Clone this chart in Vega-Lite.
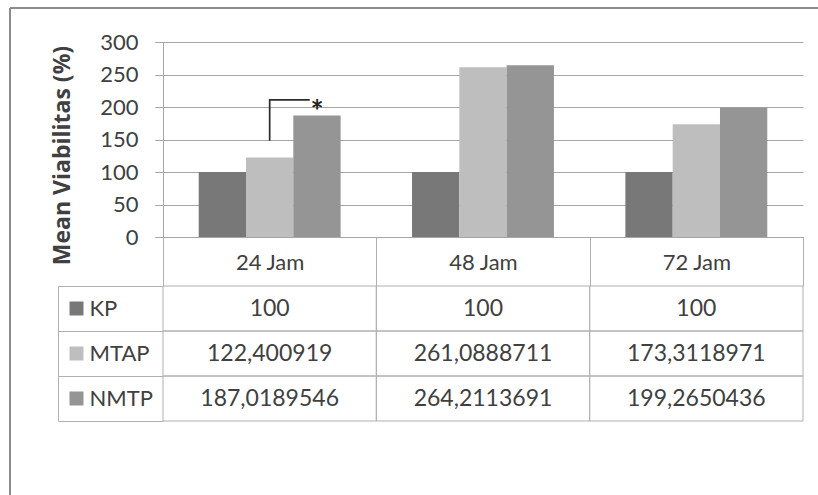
{
  "$schema": "https://vega.github.io/schema/vega-lite/v6.json",
  "width": 808,
  "height": 487,
  "autosize": {"type": "none"},
  "padding": {"left": 10, "top": 8, "right": 0, "bottom": 0},
  "background": "white",
  "config": {
    "view": {"stroke": "#8c8c8c", "strokeWidth": 2, "fill": "white", "strokeDash": [808, 1295, 487, 0]},
    "font": "Lato",
    "locale": {"number": {"decimal": ",", "thousands": ".", "grouping": [3], "currency": ["", ""]}},
    "axis": {
      "grid": false,
      "labelFont": "Lato",
      "titleFont": "Lato",
      "labelColor": "#404040",
      "domainColor": "#a6a6a6",
      "tickColor": "#a6a6a6"
    }
  },
  "datasets": {
    "viability": [
      {"jam": "24 Jam", "series": "KP", "value": 100},
      {"jam": "24 Jam", "series": "MTAP", "value": 122.400919},
      {"jam": "24 Jam", "series": "NMTP", "value": 187.0189546},
      {"jam": "48 Jam", "series": "KP", "value": 100},
      {"jam": "48 Jam", "series": "MTAP", "value": 261.0888711},
      {"jam": "48 Jam", "series": "NMTP", "value": 264.2113691},
      {"jam": "72 Jam", "series": "KP", "value": 100},
      {"jam": "72 Jam", "series": "MTAP", "value": 173.3118971},
      {"jam": "72 Jam", "series": "NMTP", "value": 199.2650436}
    ],
    "bracket": [
      {"jam": "24 Jam", "series": "MTAP", "value": 148, "step": 1},
      {"jam": "24 Jam", "series": "MTAP", "value": 211, "step": 2},
      {"jam": "24 Jam", "series": "NMTP", "value": 211, "step": 3}
    ],
    "significance": [
      {"jam": "24 Jam", "series": "NMTP", "value": 211, "label": "*"}
    ]
  },
  "resolve": {"scale": {"y": "independent"}, "axis": {"y": "independent"}},
  "layer": [
    {
      "data": {"name": "viability"},
      "mark": {"type": "bar"},
      "encoding": {
        "x": {
          "field": "jam",
          "type": "nominal",
          "scale": {"range": [153, 793], "paddingInner": 0, "paddingOuter": 0},
          "axis": {
            "orient": "bottom",
            "offset": -258,
            "title": null,
            "labelAngle": 0,
            "domainColor": "#a6a6a6",
            "tickBand": "extent",
            "tickSize": 49,
            "tickColor": "#b0b0b0",
            "labelFontSize": 22,
            "labelPadding": -24,
            "labelBaseline": "middle",
            "labelColor": "#404040"
          }
        },
        "xOffset": {
          "field": "series",
          "type": "nominal",
          "scale": {"paddingInner": 0, "paddingOuter": 0.755}
        },
        "y": {
          "field": "value",
          "type": "quantitative",
          "scale": {"domain": [0, 300], "range": [229, 34], "nice": false},
          "axis": {
            "orient": "left",
            "offset": -153,
            "values": [0, 50, 100, 150, 200, 250, 300],
            "tickSize": 8,
            "labelFontSize": 22,
            "labelPadding": 17,
            "title": "Mean Viabilitas  (%)",
            "titleFont": "Open Sans",
            "titleFontSize": 23,
            "titleFontWeight": "bold",
            "titleColor": "#404040",
            "titleX": -101,
            "titleY": 147,
            "titleAngle": -90,
            "titleAlign": "center",
            "titleBaseline": "middle"
          }
        },
        "color": {
          "field": "series",
          "type": "nominal",
          "scale": {"domain": ["KP", "MTAP", "NMTP"], "range": ["#787878", "#bebebe", "#959595"]},
          "legend": null
        }
      }
    },
    {
      "data": {"name": "bracket"},
      "mark": {"type": "line", "color": "#2b2b2b", "strokeWidth": 1.7, "strokeDash": [81, 200]},
      "encoding": {
        "x": {"field": "jam", "type": "nominal"},
        "xOffset": {"field": "series", "type": "nominal"},
        "y": {
          "field": "value",
          "type": "quantitative",
          "scale": {"domain": [0, 300], "range": [229, 34], "nice": false},
          "axis": {
            "orient": "left",
            "offset": -793,
            "values": [0, 50, 100, 150, 200, 250, 300],
            "tickSize": 648,
            "tickColor": "#a6a6a6",
            "domain": false,
            "labels": false,
            "title": null
          }
        },
        "order": {"field": "step"}
      }
    },
    {
      "data": {"name": "significance"},
      "mark": {"type": "text", "font": "Lato", "fontSize": 31, "fontWeight": "bold", "color": "#222222", "baseline": "middle", "dy": 13},
      "encoding": {
        "x": {"field": "jam", "type": "nominal"},
        "xOffset": {"field": "series", "type": "nominal"},
        "y": {
          "field": "value",
          "type": "quantitative",
          "scale": {"domain": [0, 300], "range": [229, 34], "nice": false},
          "axis": null
        },
        "text": {"field": "label"}
      }
    },
    {
      "data": {"name": "viability"},
      "mark": {"type": "rect", "filled": false, "stroke": "#b0b0b0", "strokeWidth": 1},
      "encoding": {
        "x": {"field": "jam", "type": "nominal"},
        "y": {
          "field": "series",
          "type": "nominal",
          "scale": {"range": [278, 413], "paddingInner": 0, "paddingOuter": 0},
          "axis": {
            "orient": "left",
            "offset": -73,
            "domain": false,
            "tickSize": 14,
            "tickWidth": 14,
            "tickColor": {
              "condition": [
                {"test": "datum.value === 'KP'", "value": "#787878"},
                {"test": "datum.value === 'MTAP'", "value": "#bebebe"}
              ],
              "value": "#959595"
            },
            "labelAlign": "left",
            "labelPadding": -20,
            "labelFontSize": 22,
            "labelColor": "#404040",
            "labelBaseline": "middle",
            "title": null
          }
        }
      }
    },
    {
      "data": {"name": "viability"},
      "mark": {"type": "text", "font": "Lato", "fontSize": 23, "color": "#404040", "baseline": "middle"},
      "encoding": {
        "x": {"field": "jam", "type": "nominal"},
        "y": {
          "field": "series",
          "type": "nominal",
          "scale": {"range": [278, 413], "paddingInner": 0, "paddingOuter": 0},
          "axis": {
            "orient": "left",
            "offset": -48,
            "domain": true,
            "domainColor": "#b0b0b0",
            "tickBand": "extent",
            "tickSize": -105,
            "tickColor": "#b0b0b0",
            "labels": false,
            "title": null
          }
        },
        "text": {"field": "value", "type": "quantitative", "format": ".10~r"}
      }
    }
  ]
}
